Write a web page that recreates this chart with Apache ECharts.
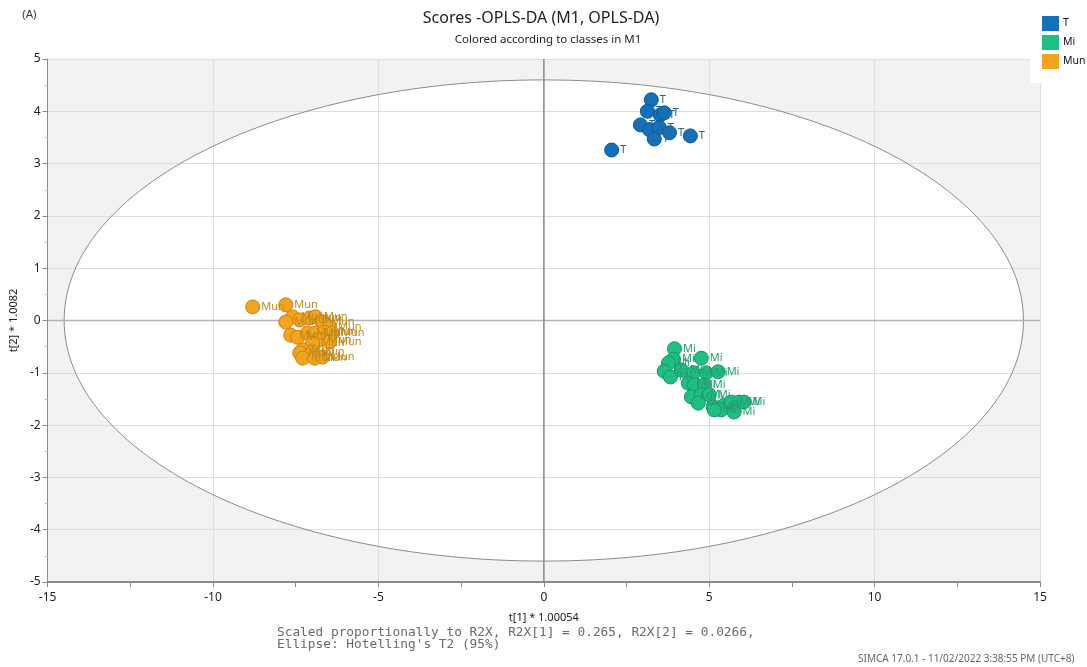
<!DOCTYPE html>
<html><head><meta charset="utf-8">
<script src="https://cdn.jsdelivr.net/npm/echarts@6/dist/echarts.min.js"></script>
<style>html,body{margin:0;padding:0;background:#fff}#c{width:1087px;height:667px}</style>
</head><body><div id="c"></div>
<script>
// ---- data ----
const classes = ['T', 'Mi', 'Mun'];
const tX = [3.25, 3.13, 3.52, 3.64, 2.92, 3.19, 3.49, 3.80, 3.34, 4.43, 2.05];
const tY = [4.22, 4.00, 3.93, 3.97, 3.74, 3.65, 3.69, 3.59, 3.47, 3.53, 3.26];
const miX = [3.95, 4.76, 3.92, 3.77, 3.64, 3.83, 4.16, 4.52, 4.91, 5.27, 4.37, 4.55, 4.85, 4.46, 4.76, 5.00, 4.67, 5.12, 5.45, 5.66, 5.90, 6.05, 5.36, 5.75, 5.15];
const miY = [-0.54, -0.72, -0.74, -0.81, -0.97, -1.08, -0.95, -1.00, -1.00, -0.98, -1.20, -1.23, -1.23, -1.46, -1.42, -1.42, -1.58, -1.65, -1.62, -1.56, -1.56, -1.56, -1.71, -1.75, -1.71];
const munX = [-8.80, -7.80, -7.59, -7.80, -7.38, -7.08, -6.90, -6.69, -6.48, -7.65, -7.44, -7.14, -6.90, -6.63, -6.39, -6.78, -6.48, -6.99, -7.29, -7.38, -6.99, -7.29, -6.93, -6.69];
const munY = [0.26, 0.30, 0.07, -0.03, 0.01, 0.05, 0.07, -0.03, -0.12, -0.28, -0.32, -0.24, -0.24, -0.22, -0.24, -0.37, -0.41, -0.43, -0.56, -0.62, -0.60, -0.72, -0.72, -0.70];
const xMin = -15, xMax = 15, xInterval = 5;
const yMin = -5, yMax = 5, yInterval = 1;
const ellipseA = 14.5, ellipseB = 4.6; // Hotelling's T2 (95%) semi-axes

const colors = { T: '#1470b8', Mi: '#1dbf82', Mun: '#f4a31f' };
const borders = { T: '#0c5a94', Mi: '#12996a', Mun: '#c8850f' };
const labelColors = { T: '#24679a', Mi: '#25a06d', Mun: '#c08a1c' };
const seriesData = {
  T: tX.map((x, i) => [x, tY[i]]),
  Mi: miX.map((x, i) => [x, miY[i]]),
  Mun: munX.map((x, i) => [x, munY[i]])
};

const chart = echarts.init(document.getElementById('c'), null, { renderer: 'canvas' });
const font = 'Noto Sans, sans-serif';

const scatterSeries = classes.map(c => ({
  name: c, type: 'scatter', z: 3,
  data: seriesData[c],
  symbol: 'circle', symbolSize: 14,
  itemStyle: { color: colors[c], borderColor: borders[c], borderWidth: 1, opacity: 1 },
  label: { show: true, position: 'right', distance: 1, formatter: c, fontSize: 11, fontFamily: font, color: labelColors[c] },
  emphasis: { disabled: true }
}));

chart.setOption({
  animation: false,
  grid: { left: 44, right: 47, top: 59, bottom: 85 },
  xAxis: {
    type: 'value', min: xMin, max: xMax, interval: xInterval,
    name: 't[1] * 1.00054', nameLocation: 'middle', nameGap: 30,
    nameTextStyle: { fontSize: 11, color: '#222', fontFamily: font },
    axisLine: { onZero: false, lineStyle: { color: '#8a8a8a', width: 2 } },
    axisTick: { show: true, length: 5, lineStyle: { color: '#8a8a8a' } },
    minorTick: { show: true, splitNumber: 2, length: 5, lineStyle: { color: '#8a8a8a' } },
    axisLabel: { fontSize: 12, color: '#222', fontFamily: font, margin: 10 },
    splitLine: { show: true, lineStyle: { color: '#dedede', width: 1 } }
  },
  yAxis: {
    type: 'value', min: yMin, max: yMax, interval: yInterval,
    name: 't[2] * 1.0082', nameLocation: 'middle', nameGap: 19,
    nameTextStyle: { fontSize: 11, color: '#222', fontFamily: font },
    axisLine: { onZero: false, lineStyle: { color: '#8a8a8a', width: 1 } },
    axisTick: { show: true, length: 5, lineStyle: { color: '#8a8a8a' } },
    minorTick: { show: true, splitNumber: 2, length: 3, lineStyle: { color: '#c0c0c0' } },
    axisLabel: { fontSize: 12, color: '#222', fontFamily: font, margin: 7 },
    splitLine: { show: true, lineStyle: { color: '#dedede', width: 1 } }
  },
  legend: {
    orient: 'vertical', left: 1037, top: 11, itemWidth: 17, itemHeight: 15, itemGap: 4,
    icon: 'rect', data: classes, selectedMode: false,
    itemStyle: { borderWidth: 0 },
    textStyle: { fontSize: 10.5, color: '#111', fontFamily: font, padding: [0, 0, 0, -1] }
  },
  graphic: [
    { type: 'rect', z: 3, shape: { x: 1030, y: 0, width: 57, height: 83 }, style: { fill: '#ffffff' } },
    { type: 'text', left: 22, top: 9, style: { text: '(A)', fontSize: 11, fill: '#333', font: '11px ' + font } },
    { type: 'text', x: 541, y: 18, style: { text: 'Scores -OPLS-DA (M1, OPLS-DA)', textAlign: 'center', textVerticalAlign: 'middle', font: '16px ' + font, fill: '#222' } },
    { type: 'text', x: 548, y: 40, style: { text: 'Colored according to classes in M1', textAlign: 'center', textVerticalAlign: 'middle', font: '11.5px ' + font, fill: '#222' } },
    { type: 'text', x: 277, y: 627, style: { text: "Scaled proportionally to R2X, R2X[1] = 0.265, R2X[2] = 0.0266,\nEllipse: Hotelling's T2 (95%)", font: '12.8px "DejaVu Sans Mono", monospace', lineHeight: 12, fill: '#6a6a6a' } },
    { type: 'text', x: 858, y: 659, style: { text: 'SIMCA 17.0.1 - 11/02/2022 3:38:55 PM (UTC+8)', textVerticalAlign: 'middle', font: '10px ' + font, fill: '#666' } }
  ],
  series: [
    {
      type: 'custom', z: -1, silent: true, data: [[0, 0]],
      renderItem: function (params, api) {
        const tl = api.coord([xMin, yMax]);
        const br = api.coord([xMax, yMin]);
        const c = api.coord([0, 0]);
        const rx = api.size([ellipseA, 0])[0];
        const ry = api.size([0, ellipseB])[1];
        return {
          type: 'group', children: [
            { type: 'rect', shape: { x: tl[0], y: tl[1], width: br[0] - tl[0], height: br[1] - tl[1] }, style: { fill: '#f2f2f2' } },
            { type: 'ellipse', shape: { cx: c[0], cy: c[1], rx: rx, ry: ry }, style: { fill: '#ffffff', stroke: 'none' } }
          ]
        };
      }
    },
    {
      type: 'custom', z: 1, silent: true, data: [[0, 0]],
      renderItem: function (params, api) {
        const c = api.coord([0, 0]);
        const l = api.coord([xMin, 0]);
        const r = api.coord([xMax, 0]);
        const t = api.coord([0, yMax]);
        const b = api.coord([0, yMin]);
        const rx = api.size([ellipseA, 0])[0];
        const ry = api.size([0, ellipseB])[1];
        return {
          type: 'group', children: [
            { type: 'ellipse', shape: { cx: c[0], cy: c[1], rx: rx, ry: ry }, style: { fill: 'none', stroke: '#8c8c8c', lineWidth: 1 } },
            { type: 'line', shape: { x1: l[0], y1: l[1], x2: r[0], y2: r[1] }, style: { stroke: '#b4b4b4', lineWidth: 1.5 } },
            { type: 'line', shape: { x1: t[0], y1: t[1], x2: b[0], y2: b[1] }, style: { stroke: '#8e8e8e', lineWidth: 1.5 } }
          ]
        };
      }
    }
  ].concat(scatterSeries)
});
</script>
</body></html>
